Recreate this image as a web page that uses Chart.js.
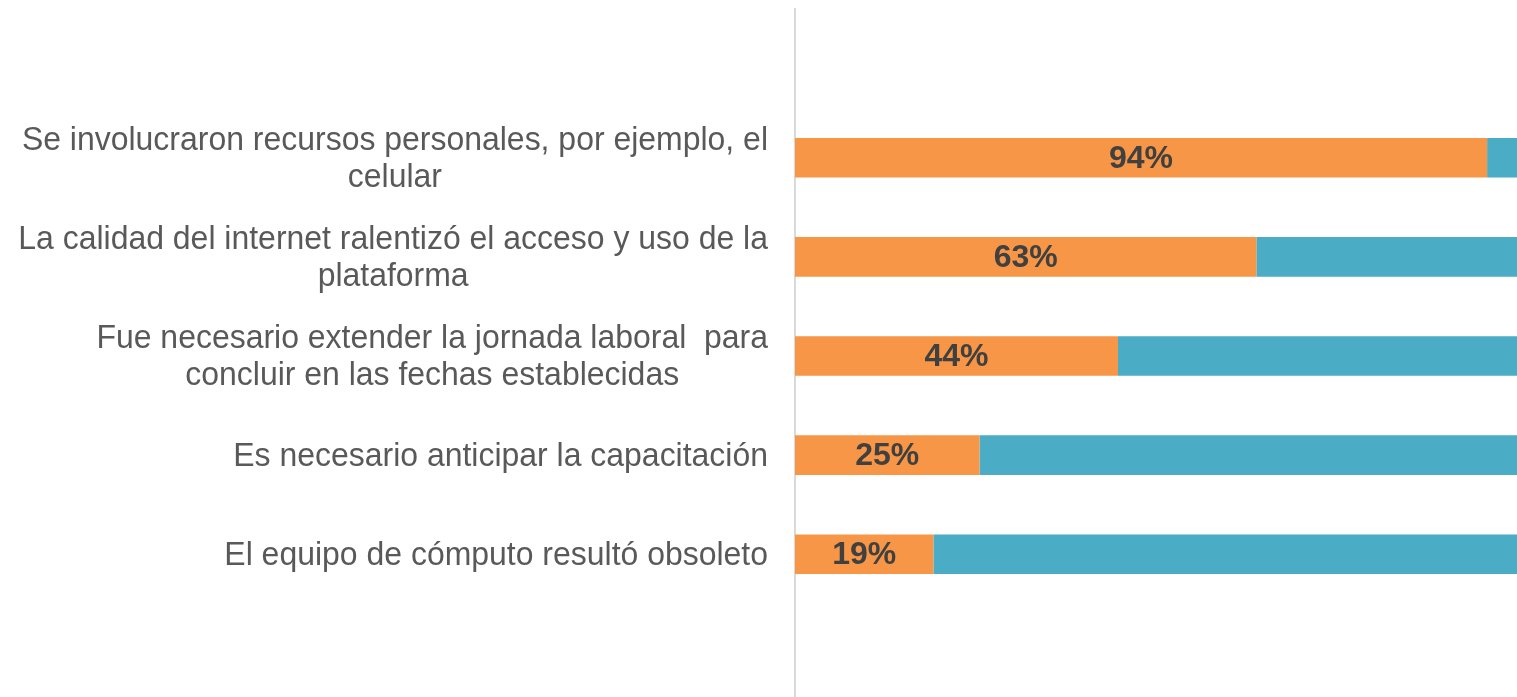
<!DOCTYPE html>
<html>
<head>
<meta charset="utf-8">
<script src="https://cdn.jsdelivr.net/npm/chart.js@4/dist/chart.umd.min.js"></script>
<style>
  html, body { margin: 0; padding: 0; background: #ffffff; overflow: hidden; }
  #wrap { width: 1517px; height: 697px; position: relative; overflow: hidden; }
  canvas { display: block; }
</style>
</head>
<body>
<div id="wrap"><canvas id="c" width="1517" height="703"></canvas></div>
<script>
// ---- data ----
const categories = [
  ["Se involucraron recursos personales, por ejemplo, el", "celular"],
  ["La calidad del internet ralentizó el acceso y uso de la", "plataforma"],
  ["Fue necesario extender la jornada laboral  para", "concluir en las fechas establecidas"],
  ["Es necesario anticipar la capacitación"],
  ["El equipo de cómputo resultó obsoleto"]
];
const siValues = [93.75, 62.5, 43.75, 25, 18.75];
const noValues = [6.25, 37.5, 56.25, 75, 81.25];
const seriesNames = ["Sí", "No"];

// one empty slot above and below, as in the original layout
const labels = ["", ...categories.map(c => c.join(" ")), ""];
const pad = arr => [null, ...arr, null];

const TEXT_FONT = '34px "Liberation Sans", Arial, sans-serif';
const TEXT_SX = 0.94;
const VALUE_FONT = 'bold 32px "Liberation Sans", Arial, sans-serif';

const labelPlugin = {
  id: 'customLabels',
  afterDraw(chart) {
    const ctx = chart.ctx;
    const yScale = chart.scales.y;
    const area = chart.chartArea;
    ctx.save();
    // category labels: block right-aligned, lines centred within block
    ctx.font = TEXT_FONT;
    ctx.fillStyle = '#595959';
    ctx.textAlign = 'center';
    ctx.textBaseline = 'middle';
    const lineH = 37;
    const rightEdge = area.left - 27;
    categories.forEach((lines, i) => {
      const yc = yScale.getPixelForValue(i + 1);
      const w = Math.max(...lines.map(l => ctx.measureText(l).width)) * TEXT_SX;
      const cx = rightEdge - w / 2;
      const y0 = yc - (lines.length - 1) * lineH / 2;
      lines.forEach((l, k) => {
        ctx.save();
        ctx.translate(cx, y0 + k * lineH + 1);
        ctx.scale(TEXT_SX, 1);
        ctx.fillText(l, 0, 0);
        ctx.restore();
      });
    });
    // value labels on the orange bars
    ctx.font = VALUE_FONT;
    ctx.fillStyle = '#404040';
    const meta = chart.getDatasetMeta(0);
    meta.data.forEach((bar, i) => {
      const v = chart.data.datasets[0].data[i];
      if (v == null) return;
      const cx = (bar.base + bar.x) / 2;
      ctx.fillText(Math.round(v) + '%', cx, bar.y + 1);
    });
    ctx.restore();
  }
};

new Chart(document.getElementById('c'), {
  type: 'bar',
  data: {
    labels: labels,
    datasets: [
      { label: seriesNames[0], data: pad(siValues), backgroundColor: '#F79646', borderWidth: 0 },
      { label: seriesNames[1], data: pad(noValues), backgroundColor: '#4BACC6', borderWidth: 0 }
    ]
  },
  options: {
    indexAxis: 'y',
    responsive: false,
    animation: false,
    layout: { padding: { top: 9, bottom: 0, left: 0, right: 0 } },
    plugins: { legend: { display: false }, tooltip: { enabled: false } },
    datasets: { bar: { categoryPercentage: 1.0, barPercentage: 0.4 } },
    scales: {
      x: {
        stacked: true,
        min: 0,
        max: 97.8,
        display: false,
        grid: { display: false }
      },
      y: {
        stacked: true,
        grid: { display: false, drawTicks: false },
        border: { display: true, color: '#d9d9d9', width: 2 },
        ticks: { display: false },
        afterFit(scale) { scale.width = 795; }
      }
    }
  },
  plugins: [labelPlugin]
});
</script>
</body>
</html>
